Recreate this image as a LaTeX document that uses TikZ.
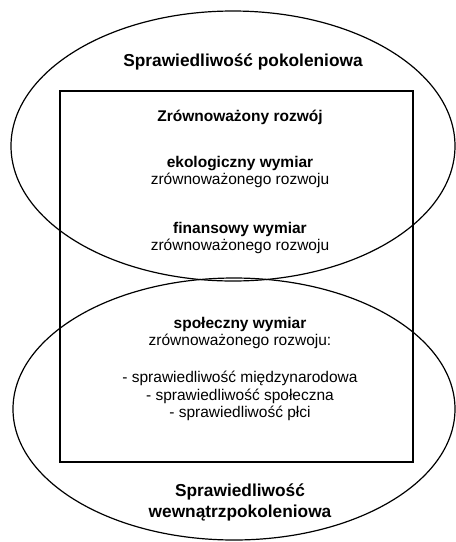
\documentclass[tikz,border=0pt]{standalone}
\usepackage{fontspec}
\setmainfont{Liberation Sans}
\begin{document}
\begin{tikzpicture}[x=1pt,y=-1pt,line width=1.2pt,
 title/.style={font=\fontsize{17.3}{21}\selectfont\bfseries,align=center},
 dim/.style={font=\fontsize{15.5}{17.5}\selectfont,align=center}]
 \useasboundingbox (0,0) rectangle (456,542);
 \draw (233,146) ellipse [x radius=222,y radius=135];
 \draw (234,409) ellipse [x radius=221,y radius=131];
 \draw (60,91) rectangle (413,462);
 \node[title] (pokol) at (243,62) {Sprawiedliwość pokoleniowa};
 \node[dim] (rozwoj) at (240,117) {\bfseries Zrównoważony rozwój};
 \node[dim] (ekol) at (240,172) {{\bfseries ekologiczny wymiar}\\zrównoważonego rozwoju};
 \node[dim] (finans) at (240,238) {{\bfseries finansowy wymiar}\\zrównoważonego rozwoju};
 \node[dim] (spol) at (240,333) {{\bfseries społeczny wymiar}\\zrównoważonego rozwoju:};
 \node[dim] (lista) at (240,396) {- sprawiedliwość międzynarodowa\\- sprawiedliwość społeczna\\- sprawiedliwość płci};
 \node[title] (wewn) at (240,502) {Sprawiedliwość\\wewnątrzpokoleniowa};
\end{tikzpicture}
\end{document}
